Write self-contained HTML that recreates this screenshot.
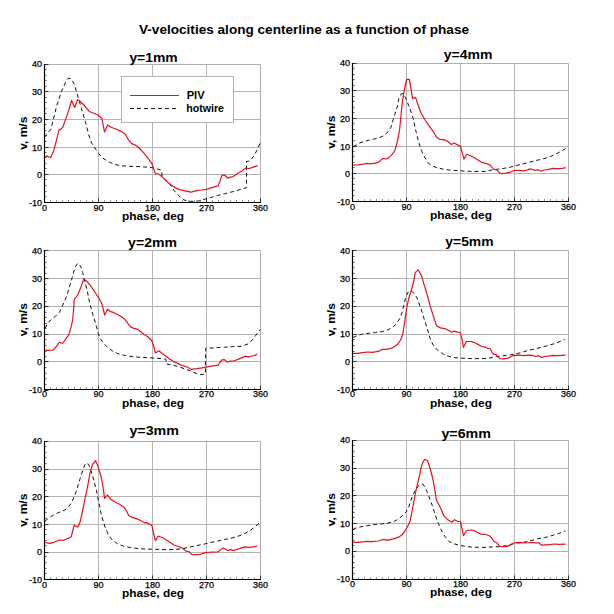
<!DOCTYPE html>
<html><head><meta charset="utf-8"><style>
html,body{margin:0;padding:0;background:#fff;}
svg{display:block;font-family:"Liberation Sans",sans-serif;}
</style></head><body>
<svg width="614" height="614" viewBox="0 0 614 614">
<rect width="614" height="614" fill="#fff"/>
<line x1="98.5" y1="64" x2="98.5" y2="202" stroke="#b4b4b4" stroke-width="1"/>
<line x1="152.5" y1="64" x2="152.5" y2="202" stroke="#b4b4b4" stroke-width="1"/>
<line x1="206.5" y1="64" x2="206.5" y2="202" stroke="#b4b4b4" stroke-width="1"/>
<line x1="44" y1="91.5" x2="260" y2="91.5" stroke="#b4b4b4" stroke-width="1"/>
<line x1="44" y1="119.5" x2="260" y2="119.5" stroke="#b4b4b4" stroke-width="1"/>
<line x1="44" y1="147.5" x2="260" y2="147.5" stroke="#b4b4b4" stroke-width="1"/>
<line x1="44" y1="174.5" x2="260" y2="174.5" stroke="#b4b4b4" stroke-width="1"/>
<path d="M44.5 64.5 H260.5 V202.5" fill="none" stroke="#b0b0b0" stroke-width="1"/>
<line x1="44" y1="202.5" x2="48.5" y2="202.5" stroke="#333" stroke-width="1"/>
<line x1="44" y1="196.5" x2="46.6" y2="196.5" stroke="#666" stroke-width="1"/>
<line x1="44" y1="191.5" x2="46.6" y2="191.5" stroke="#666" stroke-width="1"/>
<line x1="44" y1="185.5" x2="46.6" y2="185.5" stroke="#666" stroke-width="1"/>
<line x1="44" y1="179.5" x2="46.6" y2="179.5" stroke="#666" stroke-width="1"/>
<line x1="44" y1="174.5" x2="48.5" y2="174.5" stroke="#333" stroke-width="1"/>
<line x1="44" y1="168.5" x2="46.6" y2="168.5" stroke="#666" stroke-width="1"/>
<line x1="44" y1="163.5" x2="46.6" y2="163.5" stroke="#666" stroke-width="1"/>
<line x1="44" y1="157.5" x2="46.6" y2="157.5" stroke="#666" stroke-width="1"/>
<line x1="44" y1="152.5" x2="46.6" y2="152.5" stroke="#666" stroke-width="1"/>
<line x1="44" y1="147.5" x2="48.5" y2="147.5" stroke="#333" stroke-width="1"/>
<line x1="44" y1="141.5" x2="46.6" y2="141.5" stroke="#666" stroke-width="1"/>
<line x1="44" y1="135.5" x2="46.6" y2="135.5" stroke="#666" stroke-width="1"/>
<line x1="44" y1="130.5" x2="46.6" y2="130.5" stroke="#666" stroke-width="1"/>
<line x1="44" y1="124.5" x2="46.6" y2="124.5" stroke="#666" stroke-width="1"/>
<line x1="44" y1="119.5" x2="48.5" y2="119.5" stroke="#333" stroke-width="1"/>
<line x1="44" y1="113.5" x2="46.6" y2="113.5" stroke="#666" stroke-width="1"/>
<line x1="44" y1="108.5" x2="46.6" y2="108.5" stroke="#666" stroke-width="1"/>
<line x1="44" y1="102.5" x2="46.6" y2="102.5" stroke="#666" stroke-width="1"/>
<line x1="44" y1="97.5" x2="46.6" y2="97.5" stroke="#666" stroke-width="1"/>
<line x1="44" y1="91.5" x2="48.5" y2="91.5" stroke="#333" stroke-width="1"/>
<line x1="44" y1="86.5" x2="46.6" y2="86.5" stroke="#666" stroke-width="1"/>
<line x1="44" y1="80.5" x2="46.6" y2="80.5" stroke="#666" stroke-width="1"/>
<line x1="44" y1="75.5" x2="46.6" y2="75.5" stroke="#666" stroke-width="1"/>
<line x1="44" y1="69.5" x2="46.6" y2="69.5" stroke="#666" stroke-width="1"/>
<line x1="44" y1="64.5" x2="48.5" y2="64.5" stroke="#333" stroke-width="1"/>
<line x1="44.5" y1="203" x2="44.5" y2="198.5" stroke="#333" stroke-width="1"/>
<line x1="50.5" y1="203" x2="50.5" y2="200" stroke="#999" stroke-width="1"/>
<line x1="56.5" y1="203" x2="56.5" y2="200" stroke="#999" stroke-width="1"/>
<line x1="62.5" y1="203" x2="62.5" y2="200" stroke="#999" stroke-width="1"/>
<line x1="68.5" y1="203" x2="68.5" y2="200" stroke="#999" stroke-width="1"/>
<line x1="74.5" y1="203" x2="74.5" y2="200" stroke="#999" stroke-width="1"/>
<line x1="80.5" y1="203" x2="80.5" y2="200" stroke="#999" stroke-width="1"/>
<line x1="86.5" y1="203" x2="86.5" y2="200" stroke="#999" stroke-width="1"/>
<line x1="92.5" y1="203" x2="92.5" y2="200" stroke="#999" stroke-width="1"/>
<line x1="98.5" y1="203" x2="98.5" y2="198.5" stroke="#333" stroke-width="1"/>
<line x1="104.5" y1="203" x2="104.5" y2="200" stroke="#999" stroke-width="1"/>
<line x1="110.5" y1="203" x2="110.5" y2="200" stroke="#999" stroke-width="1"/>
<line x1="116.5" y1="203" x2="116.5" y2="200" stroke="#999" stroke-width="1"/>
<line x1="122.5" y1="203" x2="122.5" y2="200" stroke="#999" stroke-width="1"/>
<line x1="128.5" y1="203" x2="128.5" y2="200" stroke="#999" stroke-width="1"/>
<line x1="134.5" y1="203" x2="134.5" y2="200" stroke="#999" stroke-width="1"/>
<line x1="140.5" y1="203" x2="140.5" y2="200" stroke="#999" stroke-width="1"/>
<line x1="146.5" y1="203" x2="146.5" y2="200" stroke="#999" stroke-width="1"/>
<line x1="152.5" y1="203" x2="152.5" y2="198.5" stroke="#333" stroke-width="1"/>
<line x1="158.5" y1="203" x2="158.5" y2="200" stroke="#999" stroke-width="1"/>
<line x1="164.5" y1="203" x2="164.5" y2="200" stroke="#999" stroke-width="1"/>
<line x1="170.5" y1="203" x2="170.5" y2="200" stroke="#999" stroke-width="1"/>
<line x1="176.5" y1="203" x2="176.5" y2="200" stroke="#999" stroke-width="1"/>
<line x1="182.5" y1="203" x2="182.5" y2="200" stroke="#999" stroke-width="1"/>
<line x1="188.5" y1="203" x2="188.5" y2="200" stroke="#999" stroke-width="1"/>
<line x1="194.5" y1="203" x2="194.5" y2="200" stroke="#999" stroke-width="1"/>
<line x1="200.5" y1="203" x2="200.5" y2="200" stroke="#999" stroke-width="1"/>
<line x1="206.5" y1="203" x2="206.5" y2="198.5" stroke="#333" stroke-width="1"/>
<line x1="212.5" y1="203" x2="212.5" y2="200" stroke="#999" stroke-width="1"/>
<line x1="218.5" y1="203" x2="218.5" y2="200" stroke="#999" stroke-width="1"/>
<line x1="224.5" y1="203" x2="224.5" y2="200" stroke="#999" stroke-width="1"/>
<line x1="230.5" y1="203" x2="230.5" y2="200" stroke="#999" stroke-width="1"/>
<line x1="236.5" y1="203" x2="236.5" y2="200" stroke="#999" stroke-width="1"/>
<line x1="242.5" y1="203" x2="242.5" y2="200" stroke="#999" stroke-width="1"/>
<line x1="248.5" y1="203" x2="248.5" y2="200" stroke="#999" stroke-width="1"/>
<line x1="254.5" y1="203" x2="254.5" y2="200" stroke="#999" stroke-width="1"/>
<line x1="260.5" y1="203" x2="260.5" y2="198.5" stroke="#333" stroke-width="1"/>
<path d="M44.5 64 V202.5 H261" fill="none" stroke="#000" stroke-width="1.2"/>
<text x="42" y="66.8" text-anchor="end" font-size="9" stroke="#000" stroke-width="0.25">40</text>
<text x="42" y="95.3" text-anchor="end" font-size="9" stroke="#000" stroke-width="0.25">30</text>
<text x="42" y="122.9" text-anchor="end" font-size="9" stroke="#000" stroke-width="0.25">20</text>
<text x="42" y="150.5" text-anchor="end" font-size="9" stroke="#000" stroke-width="0.25">10</text>
<text x="42" y="178.1" text-anchor="end" font-size="9" stroke="#000" stroke-width="0.25">0</text>
<text x="42" y="205.7" text-anchor="end" font-size="9" stroke="#000" stroke-width="0.25">-10</text>
<text x="44.5" y="211" text-anchor="middle" font-size="9" stroke="#000" stroke-width="0.25">0</text>
<text x="98.5" y="211" text-anchor="middle" font-size="9" stroke="#000" stroke-width="0.25">90</text>
<text x="152.5" y="211" text-anchor="middle" font-size="9" stroke="#000" stroke-width="0.25">180</text>
<text x="206.5" y="211" text-anchor="middle" font-size="9" stroke="#000" stroke-width="0.25">270</text>
<text x="260.5" y="211" text-anchor="middle" font-size="9" stroke="#000" stroke-width="0.25">360</text>
<text x="122.00" y="219.60" font-size="11.5" font-weight="bold" textLength="62.0" lengthAdjust="spacingAndGlyphs">phase, deg</text>
<text x="0.00" y="0.00" font-size="11.5" font-weight="bold" textLength="33.0" lengthAdjust="spacingAndGlyphs" transform="translate(27.3,149.7) rotate(-90)">v, m/s</text>
<text x="129.40" y="62.10" font-size="12" font-weight="bold" textLength="48.3" lengthAdjust="spacingAndGlyphs">y=1mm</text>
<path d="M44.5 137.5 L48.2 132.5 L50.8 129.4 L53.4 119.5 L56.5 106.4 L61.6 91.0 L65.7 82.2 L68.6 78.1 L71.0 78.7 L73.9 83.3 L76.8 92.7 L81.5 108.6 L85.6 122.6 L89.1 136.0 L91.6 142.9 L95.7 149.3 L98.6 153.5 L102.1 157.6 L106.8 160.7 L110.4 162.6 L115.2 164.5 L121.1 165.7 L129.3 166.3 L138.7 166.6 L146.9 167.1 L152.8 167.8 L157.8 169.1 L160.5 169.8 L161.6 170.6 L162.2 177.0 L163.2 178.6 L165.5 180.2 L168.0 182.0 L170.0 184.4 L172.0 187.3 L174.0 190.3 L176.3 193.2 L178.8 195.6 L181.4 198.1 L183.9 199.8 L186.5 200.8 L190.0 201.3 L194.9 201.3 L199.8 200.8 L204.9 199.1 L211.8 197.2 L218.6 195.2 L225.5 193.6 L232.3 191.8 L239.1 189.8 L246.5 187.7 L246.5 161.5 L249.9 161.0 L253.8 156.1 L257.7 148.8 L260.4 142.0" fill="none" stroke="#111" stroke-width="1.0" stroke-dasharray="4 3" stroke-linejoin="round"/>
<path d="M45.0 156.5 L47.6 156.2 L50.5 157.7 L53.9 150.2 L59.1 129.9 L60.7 129.1 L62.8 127.3 L65.9 118.4 L69.0 109.5 L71.6 100.4 L74.7 107.5 L77.6 99.6 L80.0 101.2 L83.9 105.0 L89.7 111.8 L93.8 113.2 L97.9 115.0 L101.8 118.2 L104.5 131.9 L107.6 124.9 L111.1 127.2 L115.2 128.7 L120.5 131.1 L125.2 134.0 L128.1 139.3 L131.7 143.6 L135.2 145.1 L138.7 147.5 L144.6 153.9 L149.2 159.8 L151.9 163.7 L153.9 169.5 L155.3 173.7 L158.3 173.9 L162.7 177.4 L168.5 182.7 L173.4 186.6 L179.3 189.6 L185.1 190.8 L191.0 192.2 L196.9 190.6 L202.0 190.0 L206.4 189.3 L211.8 187.7 L218.1 185.9 L220.1 181.0 L222.0 175.2 L224.5 175.0 L227.9 178.3 L230.3 177.1 L233.3 176.6 L237.2 173.7 L242.1 170.8 L246.0 168.1 L249.4 168.5 L253.8 166.9 L257.7 165.6" fill="none" stroke="#e4121e" stroke-width="1.2" stroke-linejoin="round"/>
<line x1="98.5" y1="250" x2="98.5" y2="389" stroke="#b4b4b4" stroke-width="1"/>
<line x1="152.5" y1="250" x2="152.5" y2="389" stroke="#b4b4b4" stroke-width="1"/>
<line x1="206.5" y1="250" x2="206.5" y2="389" stroke="#b4b4b4" stroke-width="1"/>
<line x1="44" y1="278.5" x2="260" y2="278.5" stroke="#b4b4b4" stroke-width="1"/>
<line x1="44" y1="306.5" x2="260" y2="306.5" stroke="#b4b4b4" stroke-width="1"/>
<line x1="44" y1="334.5" x2="260" y2="334.5" stroke="#b4b4b4" stroke-width="1"/>
<line x1="44" y1="361.5" x2="260" y2="361.5" stroke="#b4b4b4" stroke-width="1"/>
<path d="M44.5 250.5 H260.5 V389.5" fill="none" stroke="#b0b0b0" stroke-width="1"/>
<line x1="44" y1="390.5" x2="48.5" y2="390.5" stroke="#333" stroke-width="1"/>
<line x1="44" y1="384.5" x2="46.6" y2="384.5" stroke="#666" stroke-width="1"/>
<line x1="44" y1="378.5" x2="46.6" y2="378.5" stroke="#666" stroke-width="1"/>
<line x1="44" y1="373.5" x2="46.6" y2="373.5" stroke="#666" stroke-width="1"/>
<line x1="44" y1="367.5" x2="46.6" y2="367.5" stroke="#666" stroke-width="1"/>
<line x1="44" y1="361.5" x2="48.5" y2="361.5" stroke="#333" stroke-width="1"/>
<line x1="44" y1="356.5" x2="46.6" y2="356.5" stroke="#666" stroke-width="1"/>
<line x1="44" y1="351.5" x2="46.6" y2="351.5" stroke="#666" stroke-width="1"/>
<line x1="44" y1="345.5" x2="46.6" y2="345.5" stroke="#666" stroke-width="1"/>
<line x1="44" y1="339.5" x2="46.6" y2="339.5" stroke="#666" stroke-width="1"/>
<line x1="44" y1="334.5" x2="48.5" y2="334.5" stroke="#333" stroke-width="1"/>
<line x1="44" y1="328.5" x2="46.6" y2="328.5" stroke="#666" stroke-width="1"/>
<line x1="44" y1="323.5" x2="46.6" y2="323.5" stroke="#666" stroke-width="1"/>
<line x1="44" y1="317.5" x2="46.6" y2="317.5" stroke="#666" stroke-width="1"/>
<line x1="44" y1="312.5" x2="46.6" y2="312.5" stroke="#666" stroke-width="1"/>
<line x1="44" y1="306.5" x2="48.5" y2="306.5" stroke="#333" stroke-width="1"/>
<line x1="44" y1="301.5" x2="46.6" y2="301.5" stroke="#666" stroke-width="1"/>
<line x1="44" y1="295.5" x2="46.6" y2="295.5" stroke="#666" stroke-width="1"/>
<line x1="44" y1="289.5" x2="46.6" y2="289.5" stroke="#666" stroke-width="1"/>
<line x1="44" y1="284.5" x2="46.6" y2="284.5" stroke="#666" stroke-width="1"/>
<line x1="44" y1="278.5" x2="48.5" y2="278.5" stroke="#333" stroke-width="1"/>
<line x1="44" y1="273.5" x2="46.6" y2="273.5" stroke="#666" stroke-width="1"/>
<line x1="44" y1="267.5" x2="46.6" y2="267.5" stroke="#666" stroke-width="1"/>
<line x1="44" y1="262.5" x2="46.6" y2="262.5" stroke="#666" stroke-width="1"/>
<line x1="44" y1="256.5" x2="46.6" y2="256.5" stroke="#666" stroke-width="1"/>
<line x1="44" y1="250.5" x2="48.5" y2="250.5" stroke="#333" stroke-width="1"/>
<line x1="44.5" y1="390" x2="44.5" y2="385.5" stroke="#333" stroke-width="1"/>
<line x1="50.5" y1="390" x2="50.5" y2="387" stroke="#999" stroke-width="1"/>
<line x1="56.5" y1="390" x2="56.5" y2="387" stroke="#999" stroke-width="1"/>
<line x1="62.5" y1="390" x2="62.5" y2="387" stroke="#999" stroke-width="1"/>
<line x1="68.5" y1="390" x2="68.5" y2="387" stroke="#999" stroke-width="1"/>
<line x1="74.5" y1="390" x2="74.5" y2="387" stroke="#999" stroke-width="1"/>
<line x1="80.5" y1="390" x2="80.5" y2="387" stroke="#999" stroke-width="1"/>
<line x1="86.5" y1="390" x2="86.5" y2="387" stroke="#999" stroke-width="1"/>
<line x1="92.5" y1="390" x2="92.5" y2="387" stroke="#999" stroke-width="1"/>
<line x1="98.5" y1="390" x2="98.5" y2="385.5" stroke="#333" stroke-width="1"/>
<line x1="104.5" y1="390" x2="104.5" y2="387" stroke="#999" stroke-width="1"/>
<line x1="110.5" y1="390" x2="110.5" y2="387" stroke="#999" stroke-width="1"/>
<line x1="116.5" y1="390" x2="116.5" y2="387" stroke="#999" stroke-width="1"/>
<line x1="122.5" y1="390" x2="122.5" y2="387" stroke="#999" stroke-width="1"/>
<line x1="128.5" y1="390" x2="128.5" y2="387" stroke="#999" stroke-width="1"/>
<line x1="134.5" y1="390" x2="134.5" y2="387" stroke="#999" stroke-width="1"/>
<line x1="140.5" y1="390" x2="140.5" y2="387" stroke="#999" stroke-width="1"/>
<line x1="146.5" y1="390" x2="146.5" y2="387" stroke="#999" stroke-width="1"/>
<line x1="152.5" y1="390" x2="152.5" y2="385.5" stroke="#333" stroke-width="1"/>
<line x1="158.5" y1="390" x2="158.5" y2="387" stroke="#999" stroke-width="1"/>
<line x1="164.5" y1="390" x2="164.5" y2="387" stroke="#999" stroke-width="1"/>
<line x1="170.5" y1="390" x2="170.5" y2="387" stroke="#999" stroke-width="1"/>
<line x1="176.5" y1="390" x2="176.5" y2="387" stroke="#999" stroke-width="1"/>
<line x1="182.5" y1="390" x2="182.5" y2="387" stroke="#999" stroke-width="1"/>
<line x1="188.5" y1="390" x2="188.5" y2="387" stroke="#999" stroke-width="1"/>
<line x1="194.5" y1="390" x2="194.5" y2="387" stroke="#999" stroke-width="1"/>
<line x1="200.5" y1="390" x2="200.5" y2="387" stroke="#999" stroke-width="1"/>
<line x1="206.5" y1="390" x2="206.5" y2="385.5" stroke="#333" stroke-width="1"/>
<line x1="212.5" y1="390" x2="212.5" y2="387" stroke="#999" stroke-width="1"/>
<line x1="218.5" y1="390" x2="218.5" y2="387" stroke="#999" stroke-width="1"/>
<line x1="224.5" y1="390" x2="224.5" y2="387" stroke="#999" stroke-width="1"/>
<line x1="230.5" y1="390" x2="230.5" y2="387" stroke="#999" stroke-width="1"/>
<line x1="236.5" y1="390" x2="236.5" y2="387" stroke="#999" stroke-width="1"/>
<line x1="242.5" y1="390" x2="242.5" y2="387" stroke="#999" stroke-width="1"/>
<line x1="248.5" y1="390" x2="248.5" y2="387" stroke="#999" stroke-width="1"/>
<line x1="254.5" y1="390" x2="254.5" y2="387" stroke="#999" stroke-width="1"/>
<line x1="260.5" y1="390" x2="260.5" y2="385.5" stroke="#333" stroke-width="1"/>
<path d="M44.5 250 V389.5 H261" fill="none" stroke="#000" stroke-width="1.2"/>
<text x="42" y="253.7" text-anchor="end" font-size="9" stroke="#000" stroke-width="0.25">40</text>
<text x="42" y="281.5" text-anchor="end" font-size="9" stroke="#000" stroke-width="0.25">30</text>
<text x="42" y="309.3" text-anchor="end" font-size="9" stroke="#000" stroke-width="0.25">20</text>
<text x="42" y="337.1" text-anchor="end" font-size="9" stroke="#000" stroke-width="0.25">10</text>
<text x="42" y="364.9" text-anchor="end" font-size="9" stroke="#000" stroke-width="0.25">0</text>
<text x="42" y="392.7" text-anchor="end" font-size="9" stroke="#000" stroke-width="0.25">-10</text>
<text x="44.5" y="397.2" text-anchor="middle" font-size="9" stroke="#000" stroke-width="0.25">0</text>
<text x="98.5" y="397.2" text-anchor="middle" font-size="9" stroke="#000" stroke-width="0.25">90</text>
<text x="152.5" y="397.2" text-anchor="middle" font-size="9" stroke="#000" stroke-width="0.25">180</text>
<text x="206.5" y="397.2" text-anchor="middle" font-size="9" stroke="#000" stroke-width="0.25">270</text>
<text x="260.5" y="397.2" text-anchor="middle" font-size="9" stroke="#000" stroke-width="0.25">360</text>
<text x="122.00" y="406.60" font-size="11.5" font-weight="bold" textLength="62.0" lengthAdjust="spacingAndGlyphs">phase, deg</text>
<text x="0.00" y="0.00" font-size="11.5" font-weight="bold" textLength="33.0" lengthAdjust="spacingAndGlyphs" transform="translate(27.3,336.2) rotate(-90)">v, m/s</text>
<text x="128.10" y="246.80" font-size="12" font-weight="bold" textLength="48.9" lengthAdjust="spacingAndGlyphs">y=2mm</text>
<path d="M44.9 328.3 L47.8 323.5 L50.7 320.0 L55.1 316.6 L59.5 312.2 L62.1 306.7 L66.0 297.9 L69.4 287.1 L72.3 277.4 L74.8 267.6 L77.7 263.2 L80.6 266.1 L82.6 272.5 L85.0 282.2 L87.5 292.0 L89.4 301.8 L91.4 309.1 L93.3 316.1 L95.7 323.5 L98.2 333.5 L100.4 338.8 L103.8 343.7 L107.7 347.6 L112.6 351.0 L117.5 353.5 L123.4 355.2 L129.2 356.2 L135.1 356.9 L141.9 357.4 L148.8 357.7 L156.8 358.3 L164.7 359.0 L166.0 359.4 L166.2 363.9 L172.5 365.2 L178.3 366.5 L184.2 368.7 L190.1 370.7 L195.9 373.3 L200.8 374.6 L205.4 373.9 L205.7 348.3 L209.8 348.1 L216.7 347.6 L224.5 347.2 L233.3 346.6 L242.1 346.2 L247.9 343.9 L252.8 339.5 L258.2 332.2 L260.2 329.5" fill="none" stroke="#111" stroke-width="1.0" stroke-dasharray="4 3" stroke-linejoin="round"/>
<path d="M44.9 350.3 L48.8 350.3 L53.2 350.0 L56.1 346.9 L59.5 342.2 L62.5 343.5 L65.4 339.6 L68.8 334.7 L71.3 326.4 L72.7 319.5 L73.4 311.7 L74.3 299.4 L77.7 295.0 L80.6 288.1 L83.6 279.3 L87.0 281.3 L90.9 286.2 L94.8 292.0 L98.7 297.9 L101.9 303.7 L103.3 309.5 L104.6 315.2 L107.5 309.3 L110.7 311.7 L114.1 312.7 L119.0 315.2 L124.3 318.8 L127.3 322.7 L130.2 326.6 L133.1 328.1 L137.0 329.1 L140.5 331.5 L143.9 334.5 L147.8 336.8 L151.7 340.5 L153.9 346.7 L155.4 353.1 L158.8 350.8 L163.7 354.5 L169.5 358.9 L175.4 362.4 L181.3 365.1 L187.6 367.2 L191.5 369.4 L196.9 368.7 L202.0 367.9 L205.9 367.1 L211.8 366.1 L218.1 365.1 L220.1 362.0 L222.0 359.9 L224.5 359.6 L227.4 362.2 L230.3 361.0 L233.3 361.2 L237.2 359.6 L242.1 357.6 L245.5 356.2 L248.4 356.9 L252.8 356.0 L257.2 354.4" fill="none" stroke="#e4121e" stroke-width="1.2" stroke-linejoin="round"/>
<line x1="98.5" y1="441" x2="98.5" y2="579" stroke="#b4b4b4" stroke-width="1"/>
<line x1="152.5" y1="441" x2="152.5" y2="579" stroke="#b4b4b4" stroke-width="1"/>
<line x1="206.5" y1="441" x2="206.5" y2="579" stroke="#b4b4b4" stroke-width="1"/>
<line x1="44" y1="469.5" x2="260" y2="469.5" stroke="#b4b4b4" stroke-width="1"/>
<line x1="44" y1="496.5" x2="260" y2="496.5" stroke="#b4b4b4" stroke-width="1"/>
<line x1="44" y1="524.5" x2="260" y2="524.5" stroke="#b4b4b4" stroke-width="1"/>
<line x1="44" y1="552.5" x2="260" y2="552.5" stroke="#b4b4b4" stroke-width="1"/>
<path d="M44.5 441.5 H260.5 V579.5" fill="none" stroke="#b0b0b0" stroke-width="1"/>
<line x1="44" y1="579.5" x2="48.5" y2="579.5" stroke="#333" stroke-width="1"/>
<line x1="44" y1="573.5" x2="46.6" y2="573.5" stroke="#666" stroke-width="1"/>
<line x1="44" y1="568.5" x2="46.6" y2="568.5" stroke="#666" stroke-width="1"/>
<line x1="44" y1="562.5" x2="46.6" y2="562.5" stroke="#666" stroke-width="1"/>
<line x1="44" y1="556.5" x2="46.6" y2="556.5" stroke="#666" stroke-width="1"/>
<line x1="44" y1="552.5" x2="48.5" y2="552.5" stroke="#333" stroke-width="1"/>
<line x1="44" y1="545.5" x2="46.6" y2="545.5" stroke="#666" stroke-width="1"/>
<line x1="44" y1="540.5" x2="46.6" y2="540.5" stroke="#666" stroke-width="1"/>
<line x1="44" y1="534.5" x2="46.6" y2="534.5" stroke="#666" stroke-width="1"/>
<line x1="44" y1="529.5" x2="46.6" y2="529.5" stroke="#666" stroke-width="1"/>
<line x1="44" y1="524.5" x2="48.5" y2="524.5" stroke="#333" stroke-width="1"/>
<line x1="44" y1="518.5" x2="46.6" y2="518.5" stroke="#666" stroke-width="1"/>
<line x1="44" y1="512.5" x2="46.6" y2="512.5" stroke="#666" stroke-width="1"/>
<line x1="44" y1="507.5" x2="46.6" y2="507.5" stroke="#666" stroke-width="1"/>
<line x1="44" y1="501.5" x2="46.6" y2="501.5" stroke="#666" stroke-width="1"/>
<line x1="44" y1="496.5" x2="48.5" y2="496.5" stroke="#333" stroke-width="1"/>
<line x1="44" y1="490.5" x2="46.6" y2="490.5" stroke="#666" stroke-width="1"/>
<line x1="44" y1="485.5" x2="46.6" y2="485.5" stroke="#666" stroke-width="1"/>
<line x1="44" y1="479.5" x2="46.6" y2="479.5" stroke="#666" stroke-width="1"/>
<line x1="44" y1="474.5" x2="46.6" y2="474.5" stroke="#666" stroke-width="1"/>
<line x1="44" y1="469.5" x2="48.5" y2="469.5" stroke="#333" stroke-width="1"/>
<line x1="44" y1="463.5" x2="46.6" y2="463.5" stroke="#666" stroke-width="1"/>
<line x1="44" y1="457.5" x2="46.6" y2="457.5" stroke="#666" stroke-width="1"/>
<line x1="44" y1="452.5" x2="46.6" y2="452.5" stroke="#666" stroke-width="1"/>
<line x1="44" y1="446.5" x2="46.6" y2="446.5" stroke="#666" stroke-width="1"/>
<line x1="44" y1="441.5" x2="48.5" y2="441.5" stroke="#333" stroke-width="1"/>
<line x1="44.5" y1="580" x2="44.5" y2="575.5" stroke="#333" stroke-width="1"/>
<line x1="50.5" y1="580" x2="50.5" y2="577" stroke="#999" stroke-width="1"/>
<line x1="56.5" y1="580" x2="56.5" y2="577" stroke="#999" stroke-width="1"/>
<line x1="62.5" y1="580" x2="62.5" y2="577" stroke="#999" stroke-width="1"/>
<line x1="68.5" y1="580" x2="68.5" y2="577" stroke="#999" stroke-width="1"/>
<line x1="74.5" y1="580" x2="74.5" y2="577" stroke="#999" stroke-width="1"/>
<line x1="80.5" y1="580" x2="80.5" y2="577" stroke="#999" stroke-width="1"/>
<line x1="86.5" y1="580" x2="86.5" y2="577" stroke="#999" stroke-width="1"/>
<line x1="92.5" y1="580" x2="92.5" y2="577" stroke="#999" stroke-width="1"/>
<line x1="98.5" y1="580" x2="98.5" y2="575.5" stroke="#333" stroke-width="1"/>
<line x1="104.5" y1="580" x2="104.5" y2="577" stroke="#999" stroke-width="1"/>
<line x1="110.5" y1="580" x2="110.5" y2="577" stroke="#999" stroke-width="1"/>
<line x1="116.5" y1="580" x2="116.5" y2="577" stroke="#999" stroke-width="1"/>
<line x1="122.5" y1="580" x2="122.5" y2="577" stroke="#999" stroke-width="1"/>
<line x1="128.5" y1="580" x2="128.5" y2="577" stroke="#999" stroke-width="1"/>
<line x1="134.5" y1="580" x2="134.5" y2="577" stroke="#999" stroke-width="1"/>
<line x1="140.5" y1="580" x2="140.5" y2="577" stroke="#999" stroke-width="1"/>
<line x1="146.5" y1="580" x2="146.5" y2="577" stroke="#999" stroke-width="1"/>
<line x1="152.5" y1="580" x2="152.5" y2="575.5" stroke="#333" stroke-width="1"/>
<line x1="158.5" y1="580" x2="158.5" y2="577" stroke="#999" stroke-width="1"/>
<line x1="164.5" y1="580" x2="164.5" y2="577" stroke="#999" stroke-width="1"/>
<line x1="170.5" y1="580" x2="170.5" y2="577" stroke="#999" stroke-width="1"/>
<line x1="176.5" y1="580" x2="176.5" y2="577" stroke="#999" stroke-width="1"/>
<line x1="182.5" y1="580" x2="182.5" y2="577" stroke="#999" stroke-width="1"/>
<line x1="188.5" y1="580" x2="188.5" y2="577" stroke="#999" stroke-width="1"/>
<line x1="194.5" y1="580" x2="194.5" y2="577" stroke="#999" stroke-width="1"/>
<line x1="200.5" y1="580" x2="200.5" y2="577" stroke="#999" stroke-width="1"/>
<line x1="206.5" y1="580" x2="206.5" y2="575.5" stroke="#333" stroke-width="1"/>
<line x1="212.5" y1="580" x2="212.5" y2="577" stroke="#999" stroke-width="1"/>
<line x1="218.5" y1="580" x2="218.5" y2="577" stroke="#999" stroke-width="1"/>
<line x1="224.5" y1="580" x2="224.5" y2="577" stroke="#999" stroke-width="1"/>
<line x1="230.5" y1="580" x2="230.5" y2="577" stroke="#999" stroke-width="1"/>
<line x1="236.5" y1="580" x2="236.5" y2="577" stroke="#999" stroke-width="1"/>
<line x1="242.5" y1="580" x2="242.5" y2="577" stroke="#999" stroke-width="1"/>
<line x1="248.5" y1="580" x2="248.5" y2="577" stroke="#999" stroke-width="1"/>
<line x1="254.5" y1="580" x2="254.5" y2="577" stroke="#999" stroke-width="1"/>
<line x1="260.5" y1="580" x2="260.5" y2="575.5" stroke="#333" stroke-width="1"/>
<path d="M44.5 441 V579.5 H261" fill="none" stroke="#000" stroke-width="1.2"/>
<text x="42" y="443.8" text-anchor="end" font-size="9" stroke="#000" stroke-width="0.25">40</text>
<text x="42" y="472.3" text-anchor="end" font-size="9" stroke="#000" stroke-width="0.25">30</text>
<text x="42" y="499.9" text-anchor="end" font-size="9" stroke="#000" stroke-width="0.25">20</text>
<text x="42" y="527.5" text-anchor="end" font-size="9" stroke="#000" stroke-width="0.25">10</text>
<text x="42" y="555.1" text-anchor="end" font-size="9" stroke="#000" stroke-width="0.25">0</text>
<text x="42" y="582.7" text-anchor="end" font-size="9" stroke="#000" stroke-width="0.25">-10</text>
<text x="44.5" y="588" text-anchor="middle" font-size="9" stroke="#000" stroke-width="0.25">0</text>
<text x="98.5" y="588" text-anchor="middle" font-size="9" stroke="#000" stroke-width="0.25">90</text>
<text x="152.5" y="588" text-anchor="middle" font-size="9" stroke="#000" stroke-width="0.25">180</text>
<text x="206.5" y="588" text-anchor="middle" font-size="9" stroke="#000" stroke-width="0.25">270</text>
<text x="260.5" y="588" text-anchor="middle" font-size="9" stroke="#000" stroke-width="0.25">360</text>
<text x="122.00" y="596.60" font-size="11.5" font-weight="bold" textLength="62.0" lengthAdjust="spacingAndGlyphs">phase, deg</text>
<text x="0.00" y="0.00" font-size="11.5" font-weight="bold" textLength="33.0" lengthAdjust="spacingAndGlyphs" transform="translate(27.3,526.7) rotate(-90)">v, m/s</text>
<text x="129.40" y="434.70" font-size="12" font-weight="bold" textLength="49.6" lengthAdjust="spacingAndGlyphs">y=3mm</text>
<path d="M44.9 521.3 L48.3 518.3 L52.7 515.4 L57.6 513.0 L62.5 511.0 L66.4 509.1 L69.3 506.1 L73.3 498.9 L76.7 490.1 L80.2 478.3 L83.1 469.5 L85.5 463.2 L88.5 464.2 L90.9 470.5 L93.8 480.3 L96.8 492.0 L99.0 503.5 L101.4 515.0 L103.3 521.5 L105.3 527.7 L108.2 534.5 L112.1 539.9 L117.5 543.8 L123.4 546.1 L130.2 547.5 L137.0 548.4 L143.9 549.0 L150.7 549.2 L159.8 549.4 L167.6 549.7 L175.4 549.4 L182.2 548.7 L189.1 547.2 L196.9 545.5 L203.0 544.4 L209.8 542.7 L217.6 541.1 L225.5 539.3 L232.3 537.9 L239.1 535.9 L245.0 533.5 L250.9 530.0 L255.7 526.1 L259.2 523.2" fill="none" stroke="#111" stroke-width="1.0" stroke-dasharray="4 3" stroke-linejoin="round"/>
<path d="M44.9 542.5 L49.8 543.3 L53.7 542.3 L59.5 540.0 L63.5 540.3 L68.3 538.4 L71.3 536.4 L72.7 531.0 L74.2 525.2 L77.6 527.1 L80.1 522.2 L82.0 513.5 L84.7 500.5 L87.5 487.1 L89.9 473.5 L92.4 464.7 L95.6 460.7 L97.7 465.6 L100.2 473.5 L101.4 478.0 L102.8 485.6 L104.6 498.3 L107.5 494.9 L110.7 499.3 L114.6 501.8 L119.5 504.2 L124.3 507.6 L126.3 510.6 L128.7 515.4 L132.2 517.4 L137.0 518.9 L141.0 520.8 L144.4 522.8 L146.5 522.6 L149.7 524.2 L152.0 525.7 L153.4 532.6 L155.4 540.6 L158.3 536.0 L162.7 537.7 L168.6 541.4 L174.4 545.3 L179.3 546.8 L183.2 548.7 L186.2 551.2 L189.1 551.6 L191.5 554.3 L195.9 554.6 L200.8 554.3 L204.7 552.6 L206.4 552.5 L211.8 552.2 L218.1 551.8 L220.1 550.1 L222.5 548.1 L225.0 548.9 L227.9 550.6 L230.8 549.6 L233.8 550.6 L237.2 549.3 L241.1 548.1 L245.0 546.9 L248.9 547.3 L252.8 546.9 L257.2 546.2" fill="none" stroke="#e4121e" stroke-width="1.2" stroke-linejoin="round"/>
<line x1="406.5" y1="63" x2="406.5" y2="201" stroke="#b4b4b4" stroke-width="1"/>
<line x1="460.5" y1="63" x2="460.5" y2="201" stroke="#b4b4b4" stroke-width="1"/>
<line x1="514.5" y1="63" x2="514.5" y2="201" stroke="#b4b4b4" stroke-width="1"/>
<line x1="352" y1="90.5" x2="568" y2="90.5" stroke="#b4b4b4" stroke-width="1"/>
<line x1="352" y1="118.5" x2="568" y2="118.5" stroke="#b4b4b4" stroke-width="1"/>
<line x1="352" y1="146.5" x2="568" y2="146.5" stroke="#b4b4b4" stroke-width="1"/>
<line x1="352" y1="173.5" x2="568" y2="173.5" stroke="#b4b4b4" stroke-width="1"/>
<path d="M352.5 63.5 H568.5 V201.5" fill="none" stroke="#b0b0b0" stroke-width="1"/>
<line x1="352" y1="201.5" x2="356.5" y2="201.5" stroke="#333" stroke-width="1"/>
<line x1="352" y1="195.5" x2="354.6" y2="195.5" stroke="#666" stroke-width="1"/>
<line x1="352" y1="190.5" x2="354.6" y2="190.5" stroke="#666" stroke-width="1"/>
<line x1="352" y1="184.5" x2="354.6" y2="184.5" stroke="#666" stroke-width="1"/>
<line x1="352" y1="178.5" x2="354.6" y2="178.5" stroke="#666" stroke-width="1"/>
<line x1="352" y1="173.5" x2="356.5" y2="173.5" stroke="#333" stroke-width="1"/>
<line x1="352" y1="167.5" x2="354.6" y2="167.5" stroke="#666" stroke-width="1"/>
<line x1="352" y1="162.5" x2="354.6" y2="162.5" stroke="#666" stroke-width="1"/>
<line x1="352" y1="156.5" x2="354.6" y2="156.5" stroke="#666" stroke-width="1"/>
<line x1="352" y1="151.5" x2="354.6" y2="151.5" stroke="#666" stroke-width="1"/>
<line x1="352" y1="146.5" x2="356.5" y2="146.5" stroke="#333" stroke-width="1"/>
<line x1="352" y1="140.5" x2="354.6" y2="140.5" stroke="#666" stroke-width="1"/>
<line x1="352" y1="134.5" x2="354.6" y2="134.5" stroke="#666" stroke-width="1"/>
<line x1="352" y1="129.5" x2="354.6" y2="129.5" stroke="#666" stroke-width="1"/>
<line x1="352" y1="123.5" x2="354.6" y2="123.5" stroke="#666" stroke-width="1"/>
<line x1="352" y1="118.5" x2="356.5" y2="118.5" stroke="#333" stroke-width="1"/>
<line x1="352" y1="112.5" x2="354.6" y2="112.5" stroke="#666" stroke-width="1"/>
<line x1="352" y1="107.5" x2="354.6" y2="107.5" stroke="#666" stroke-width="1"/>
<line x1="352" y1="101.5" x2="354.6" y2="101.5" stroke="#666" stroke-width="1"/>
<line x1="352" y1="96.5" x2="354.6" y2="96.5" stroke="#666" stroke-width="1"/>
<line x1="352" y1="90.5" x2="356.5" y2="90.5" stroke="#333" stroke-width="1"/>
<line x1="352" y1="85.5" x2="354.6" y2="85.5" stroke="#666" stroke-width="1"/>
<line x1="352" y1="79.5" x2="354.6" y2="79.5" stroke="#666" stroke-width="1"/>
<line x1="352" y1="74.5" x2="354.6" y2="74.5" stroke="#666" stroke-width="1"/>
<line x1="352" y1="68.5" x2="354.6" y2="68.5" stroke="#666" stroke-width="1"/>
<line x1="352" y1="63.5" x2="356.5" y2="63.5" stroke="#333" stroke-width="1"/>
<line x1="352.5" y1="202" x2="352.5" y2="197.5" stroke="#333" stroke-width="1"/>
<line x1="358.5" y1="202" x2="358.5" y2="199" stroke="#999" stroke-width="1"/>
<line x1="364.5" y1="202" x2="364.5" y2="199" stroke="#999" stroke-width="1"/>
<line x1="370.5" y1="202" x2="370.5" y2="199" stroke="#999" stroke-width="1"/>
<line x1="376.5" y1="202" x2="376.5" y2="199" stroke="#999" stroke-width="1"/>
<line x1="382.5" y1="202" x2="382.5" y2="199" stroke="#999" stroke-width="1"/>
<line x1="388.5" y1="202" x2="388.5" y2="199" stroke="#999" stroke-width="1"/>
<line x1="394.5" y1="202" x2="394.5" y2="199" stroke="#999" stroke-width="1"/>
<line x1="400.5" y1="202" x2="400.5" y2="199" stroke="#999" stroke-width="1"/>
<line x1="406.5" y1="202" x2="406.5" y2="197.5" stroke="#333" stroke-width="1"/>
<line x1="412.5" y1="202" x2="412.5" y2="199" stroke="#999" stroke-width="1"/>
<line x1="418.5" y1="202" x2="418.5" y2="199" stroke="#999" stroke-width="1"/>
<line x1="424.5" y1="202" x2="424.5" y2="199" stroke="#999" stroke-width="1"/>
<line x1="430.5" y1="202" x2="430.5" y2="199" stroke="#999" stroke-width="1"/>
<line x1="436.5" y1="202" x2="436.5" y2="199" stroke="#999" stroke-width="1"/>
<line x1="442.5" y1="202" x2="442.5" y2="199" stroke="#999" stroke-width="1"/>
<line x1="448.5" y1="202" x2="448.5" y2="199" stroke="#999" stroke-width="1"/>
<line x1="454.5" y1="202" x2="454.5" y2="199" stroke="#999" stroke-width="1"/>
<line x1="460.5" y1="202" x2="460.5" y2="197.5" stroke="#333" stroke-width="1"/>
<line x1="466.5" y1="202" x2="466.5" y2="199" stroke="#999" stroke-width="1"/>
<line x1="472.5" y1="202" x2="472.5" y2="199" stroke="#999" stroke-width="1"/>
<line x1="478.5" y1="202" x2="478.5" y2="199" stroke="#999" stroke-width="1"/>
<line x1="484.5" y1="202" x2="484.5" y2="199" stroke="#999" stroke-width="1"/>
<line x1="490.5" y1="202" x2="490.5" y2="199" stroke="#999" stroke-width="1"/>
<line x1="496.5" y1="202" x2="496.5" y2="199" stroke="#999" stroke-width="1"/>
<line x1="502.5" y1="202" x2="502.5" y2="199" stroke="#999" stroke-width="1"/>
<line x1="508.5" y1="202" x2="508.5" y2="199" stroke="#999" stroke-width="1"/>
<line x1="514.5" y1="202" x2="514.5" y2="197.5" stroke="#333" stroke-width="1"/>
<line x1="520.5" y1="202" x2="520.5" y2="199" stroke="#999" stroke-width="1"/>
<line x1="526.5" y1="202" x2="526.5" y2="199" stroke="#999" stroke-width="1"/>
<line x1="532.5" y1="202" x2="532.5" y2="199" stroke="#999" stroke-width="1"/>
<line x1="538.5" y1="202" x2="538.5" y2="199" stroke="#999" stroke-width="1"/>
<line x1="544.5" y1="202" x2="544.5" y2="199" stroke="#999" stroke-width="1"/>
<line x1="550.5" y1="202" x2="550.5" y2="199" stroke="#999" stroke-width="1"/>
<line x1="556.5" y1="202" x2="556.5" y2="199" stroke="#999" stroke-width="1"/>
<line x1="562.5" y1="202" x2="562.5" y2="199" stroke="#999" stroke-width="1"/>
<line x1="568.5" y1="202" x2="568.5" y2="197.5" stroke="#333" stroke-width="1"/>
<path d="M352.5 63 V201.5 H569" fill="none" stroke="#000" stroke-width="1.2"/>
<text x="350" y="65.8" text-anchor="end" font-size="9" stroke="#000" stroke-width="0.25">40</text>
<text x="350" y="94.3" text-anchor="end" font-size="9" stroke="#000" stroke-width="0.25">30</text>
<text x="350" y="121.9" text-anchor="end" font-size="9" stroke="#000" stroke-width="0.25">20</text>
<text x="350" y="149.5" text-anchor="end" font-size="9" stroke="#000" stroke-width="0.25">10</text>
<text x="350" y="177.1" text-anchor="end" font-size="9" stroke="#000" stroke-width="0.25">0</text>
<text x="350" y="204.7" text-anchor="end" font-size="9" stroke="#000" stroke-width="0.25">-10</text>
<text x="352.5" y="210" text-anchor="middle" font-size="9" stroke="#000" stroke-width="0.25">0</text>
<text x="406.5" y="210" text-anchor="middle" font-size="9" stroke="#000" stroke-width="0.25">90</text>
<text x="460.5" y="210" text-anchor="middle" font-size="9" stroke="#000" stroke-width="0.25">180</text>
<text x="514.5" y="210" text-anchor="middle" font-size="9" stroke="#000" stroke-width="0.25">270</text>
<text x="568.5" y="210" text-anchor="middle" font-size="9" stroke="#000" stroke-width="0.25">360</text>
<text x="429.90" y="218.60" font-size="11.5" font-weight="bold" textLength="62.0" lengthAdjust="spacingAndGlyphs">phase, deg</text>
<text x="0.00" y="0.00" font-size="11.5" font-weight="bold" textLength="33.0" lengthAdjust="spacingAndGlyphs" transform="translate(335.3,148.7) rotate(-90)">v, m/s</text>
<text x="443.70" y="58.70" font-size="12" font-weight="bold" textLength="48.7" lengthAdjust="spacingAndGlyphs">y=4mm</text>
<path d="M353.3 146.8 L358.6 143.5 L363.2 141.7 L368.5 140.3 L373.8 139.1 L378.5 138.0 L383.2 135.9 L386.7 133.3 L390.7 127.9 L394.8 114.4 L397.0 107.8 L398.9 98.7 L401.2 93.8 L403.1 93.6 L405.7 98.0 L408.0 103.9 L409.7 107.8 L413.0 117.9 L416.0 131.5 L418.4 141.0 L420.4 147.9 L422.8 153.7 L425.8 159.1 L428.7 163.6 L432.6 166.0 L437.5 168.0 L443.4 169.2 L450.2 170.1 L457.0 170.6 L463.9 171.1 L470.7 171.4 L481.7 171.5 L487.6 171.1 L492.5 169.8 L498.3 169.1 L504.2 168.3 L510.1 167.2 L515.9 165.6 L521.8 164.2 L528.1 162.6 L533.8 161.0 L539.5 159.7 L545.2 158.3 L550.9 156.3 L556.6 153.8 L561.5 151.0 L566.4 148.1" fill="none" stroke="#111" stroke-width="1.0" stroke-dasharray="4 3" stroke-linejoin="round"/>
<path d="M353.3 165.2 L358.6 164.9 L363.2 164.2 L367.3 163.4 L370.9 163.8 L375.0 163.1 L379.1 161.9 L382.6 158.4 L385.5 159.0 L388.5 157.9 L392.0 154.6 L394.9 150.5 L396.7 144.1 L398.4 137.0 L399.8 128.0 L401.5 110.0 L402.8 99.3 L404.1 90.8 L405.4 85.0 L406.6 79.4 L409.3 79.4 L411.0 88.9 L412.5 98.7 L414.2 97.7 L415.5 97.4 L417.5 103.2 L419.8 110.0 L421.4 113.7 L424.8 119.5 L428.7 125.4 L433.1 131.3 L436.5 137.1 L439.5 139.3 L444.3 139.9 L447.3 141.0 L451.2 144.5 L454.1 143.0 L458.0 145.1 L460.5 146.1 L461.9 151.8 L463.9 159.1 L466.8 154.2 L470.7 155.7 L473.9 157.6 L477.8 160.0 L481.7 162.3 L485.6 163.3 L490.0 164.9 L491.5 166.9 L493.9 169.3 L496.9 169.8 L499.3 172.7 L502.2 173.7 L506.2 173.2 L510.1 172.2 L514.0 170.5 L518.9 170.3 L523.3 170.8 L526.5 170.3 L529.8 168.9 L533.0 169.5 L535.1 170.5 L537.9 169.7 L541.6 171.2 L544.4 170.0 L548.5 169.3 L552.6 168.3 L557.5 168.7 L562.3 168.3 L565.6 167.7" fill="none" stroke="#e4121e" stroke-width="1.2" stroke-linejoin="round"/>
<line x1="406.5" y1="250" x2="406.5" y2="389" stroke="#b4b4b4" stroke-width="1"/>
<line x1="460.5" y1="250" x2="460.5" y2="389" stroke="#b4b4b4" stroke-width="1"/>
<line x1="514.5" y1="250" x2="514.5" y2="389" stroke="#b4b4b4" stroke-width="1"/>
<line x1="352" y1="278.5" x2="568" y2="278.5" stroke="#b4b4b4" stroke-width="1"/>
<line x1="352" y1="306.5" x2="568" y2="306.5" stroke="#b4b4b4" stroke-width="1"/>
<line x1="352" y1="334.5" x2="568" y2="334.5" stroke="#b4b4b4" stroke-width="1"/>
<line x1="352" y1="361.5" x2="568" y2="361.5" stroke="#b4b4b4" stroke-width="1"/>
<path d="M352.5 250.5 H568.5 V389.5" fill="none" stroke="#b0b0b0" stroke-width="1"/>
<line x1="352" y1="390.5" x2="356.5" y2="390.5" stroke="#333" stroke-width="1"/>
<line x1="352" y1="384.5" x2="354.6" y2="384.5" stroke="#666" stroke-width="1"/>
<line x1="352" y1="378.5" x2="354.6" y2="378.5" stroke="#666" stroke-width="1"/>
<line x1="352" y1="373.5" x2="354.6" y2="373.5" stroke="#666" stroke-width="1"/>
<line x1="352" y1="367.5" x2="354.6" y2="367.5" stroke="#666" stroke-width="1"/>
<line x1="352" y1="361.5" x2="356.5" y2="361.5" stroke="#333" stroke-width="1"/>
<line x1="352" y1="356.5" x2="354.6" y2="356.5" stroke="#666" stroke-width="1"/>
<line x1="352" y1="351.5" x2="354.6" y2="351.5" stroke="#666" stroke-width="1"/>
<line x1="352" y1="345.5" x2="354.6" y2="345.5" stroke="#666" stroke-width="1"/>
<line x1="352" y1="339.5" x2="354.6" y2="339.5" stroke="#666" stroke-width="1"/>
<line x1="352" y1="334.5" x2="356.5" y2="334.5" stroke="#333" stroke-width="1"/>
<line x1="352" y1="328.5" x2="354.6" y2="328.5" stroke="#666" stroke-width="1"/>
<line x1="352" y1="323.5" x2="354.6" y2="323.5" stroke="#666" stroke-width="1"/>
<line x1="352" y1="317.5" x2="354.6" y2="317.5" stroke="#666" stroke-width="1"/>
<line x1="352" y1="312.5" x2="354.6" y2="312.5" stroke="#666" stroke-width="1"/>
<line x1="352" y1="306.5" x2="356.5" y2="306.5" stroke="#333" stroke-width="1"/>
<line x1="352" y1="301.5" x2="354.6" y2="301.5" stroke="#666" stroke-width="1"/>
<line x1="352" y1="295.5" x2="354.6" y2="295.5" stroke="#666" stroke-width="1"/>
<line x1="352" y1="289.5" x2="354.6" y2="289.5" stroke="#666" stroke-width="1"/>
<line x1="352" y1="284.5" x2="354.6" y2="284.5" stroke="#666" stroke-width="1"/>
<line x1="352" y1="278.5" x2="356.5" y2="278.5" stroke="#333" stroke-width="1"/>
<line x1="352" y1="273.5" x2="354.6" y2="273.5" stroke="#666" stroke-width="1"/>
<line x1="352" y1="267.5" x2="354.6" y2="267.5" stroke="#666" stroke-width="1"/>
<line x1="352" y1="262.5" x2="354.6" y2="262.5" stroke="#666" stroke-width="1"/>
<line x1="352" y1="256.5" x2="354.6" y2="256.5" stroke="#666" stroke-width="1"/>
<line x1="352" y1="250.5" x2="356.5" y2="250.5" stroke="#333" stroke-width="1"/>
<line x1="352.5" y1="390" x2="352.5" y2="385.5" stroke="#333" stroke-width="1"/>
<line x1="358.5" y1="390" x2="358.5" y2="387" stroke="#999" stroke-width="1"/>
<line x1="364.5" y1="390" x2="364.5" y2="387" stroke="#999" stroke-width="1"/>
<line x1="370.5" y1="390" x2="370.5" y2="387" stroke="#999" stroke-width="1"/>
<line x1="376.5" y1="390" x2="376.5" y2="387" stroke="#999" stroke-width="1"/>
<line x1="382.5" y1="390" x2="382.5" y2="387" stroke="#999" stroke-width="1"/>
<line x1="388.5" y1="390" x2="388.5" y2="387" stroke="#999" stroke-width="1"/>
<line x1="394.5" y1="390" x2="394.5" y2="387" stroke="#999" stroke-width="1"/>
<line x1="400.5" y1="390" x2="400.5" y2="387" stroke="#999" stroke-width="1"/>
<line x1="406.5" y1="390" x2="406.5" y2="385.5" stroke="#333" stroke-width="1"/>
<line x1="412.5" y1="390" x2="412.5" y2="387" stroke="#999" stroke-width="1"/>
<line x1="418.5" y1="390" x2="418.5" y2="387" stroke="#999" stroke-width="1"/>
<line x1="424.5" y1="390" x2="424.5" y2="387" stroke="#999" stroke-width="1"/>
<line x1="430.5" y1="390" x2="430.5" y2="387" stroke="#999" stroke-width="1"/>
<line x1="436.5" y1="390" x2="436.5" y2="387" stroke="#999" stroke-width="1"/>
<line x1="442.5" y1="390" x2="442.5" y2="387" stroke="#999" stroke-width="1"/>
<line x1="448.5" y1="390" x2="448.5" y2="387" stroke="#999" stroke-width="1"/>
<line x1="454.5" y1="390" x2="454.5" y2="387" stroke="#999" stroke-width="1"/>
<line x1="460.5" y1="390" x2="460.5" y2="385.5" stroke="#333" stroke-width="1"/>
<line x1="466.5" y1="390" x2="466.5" y2="387" stroke="#999" stroke-width="1"/>
<line x1="472.5" y1="390" x2="472.5" y2="387" stroke="#999" stroke-width="1"/>
<line x1="478.5" y1="390" x2="478.5" y2="387" stroke="#999" stroke-width="1"/>
<line x1="484.5" y1="390" x2="484.5" y2="387" stroke="#999" stroke-width="1"/>
<line x1="490.5" y1="390" x2="490.5" y2="387" stroke="#999" stroke-width="1"/>
<line x1="496.5" y1="390" x2="496.5" y2="387" stroke="#999" stroke-width="1"/>
<line x1="502.5" y1="390" x2="502.5" y2="387" stroke="#999" stroke-width="1"/>
<line x1="508.5" y1="390" x2="508.5" y2="387" stroke="#999" stroke-width="1"/>
<line x1="514.5" y1="390" x2="514.5" y2="385.5" stroke="#333" stroke-width="1"/>
<line x1="520.5" y1="390" x2="520.5" y2="387" stroke="#999" stroke-width="1"/>
<line x1="526.5" y1="390" x2="526.5" y2="387" stroke="#999" stroke-width="1"/>
<line x1="532.5" y1="390" x2="532.5" y2="387" stroke="#999" stroke-width="1"/>
<line x1="538.5" y1="390" x2="538.5" y2="387" stroke="#999" stroke-width="1"/>
<line x1="544.5" y1="390" x2="544.5" y2="387" stroke="#999" stroke-width="1"/>
<line x1="550.5" y1="390" x2="550.5" y2="387" stroke="#999" stroke-width="1"/>
<line x1="556.5" y1="390" x2="556.5" y2="387" stroke="#999" stroke-width="1"/>
<line x1="562.5" y1="390" x2="562.5" y2="387" stroke="#999" stroke-width="1"/>
<line x1="568.5" y1="390" x2="568.5" y2="385.5" stroke="#333" stroke-width="1"/>
<path d="M352.5 250 V389.5 H569" fill="none" stroke="#000" stroke-width="1.2"/>
<text x="350" y="253.7" text-anchor="end" font-size="9" stroke="#000" stroke-width="0.25">40</text>
<text x="350" y="281.5" text-anchor="end" font-size="9" stroke="#000" stroke-width="0.25">30</text>
<text x="350" y="309.3" text-anchor="end" font-size="9" stroke="#000" stroke-width="0.25">20</text>
<text x="350" y="337.1" text-anchor="end" font-size="9" stroke="#000" stroke-width="0.25">10</text>
<text x="350" y="364.9" text-anchor="end" font-size="9" stroke="#000" stroke-width="0.25">0</text>
<text x="350" y="392.7" text-anchor="end" font-size="9" stroke="#000" stroke-width="0.25">-10</text>
<text x="352.5" y="397.2" text-anchor="middle" font-size="9" stroke="#000" stroke-width="0.25">0</text>
<text x="406.5" y="397.2" text-anchor="middle" font-size="9" stroke="#000" stroke-width="0.25">90</text>
<text x="460.5" y="397.2" text-anchor="middle" font-size="9" stroke="#000" stroke-width="0.25">180</text>
<text x="514.5" y="397.2" text-anchor="middle" font-size="9" stroke="#000" stroke-width="0.25">270</text>
<text x="568.5" y="397.2" text-anchor="middle" font-size="9" stroke="#000" stroke-width="0.25">360</text>
<text x="429.90" y="406.60" font-size="11.5" font-weight="bold" textLength="62.0" lengthAdjust="spacingAndGlyphs">phase, deg</text>
<text x="0.00" y="0.00" font-size="11.5" font-weight="bold" textLength="33.0" lengthAdjust="spacingAndGlyphs" transform="translate(335.3,336.2) rotate(-90)">v, m/s</text>
<text x="445.30" y="245.60" font-size="12" font-weight="bold" textLength="48.3" lengthAdjust="spacingAndGlyphs">y=5mm</text>
<path d="M352.9 337.6 L355.9 336.2 L359.8 334.7 L364.7 333.7 L369.5 333.2 L375.4 332.5 L382.2 331.5 L388.1 329.8 L393.0 326.9 L396.9 323.0 L399.6 318.8 L402.0 312.8 L403.9 305.0 L405.9 296.6 L408.3 291.8 L411.8 291.1 L414.7 294.2 L417.1 298.1 L419.6 305.0 L422.0 311.9 L423.9 318.1 L425.9 324.4 L428.3 332.2 L430.3 339.1 L433.2 345.0 L437.6 350.3 L442.5 353.7 L448.3 356.2 L455.2 357.7 L461.0 358.1 L466.9 358.4 L473.7 358.6 L481.7 358.6 L487.6 358.3 L493.5 357.3 L499.3 356.4 L506.2 355.4 L513.0 354.4 L518.9 353.2 L524.9 351.4 L529.8 350.1 L535.5 348.7 L542.8 346.9 L549.3 345.2 L555.8 343.2 L560.7 341.2 L564.8 339.5" fill="none" stroke="#111" stroke-width="1.0" stroke-dasharray="4 3" stroke-linejoin="round"/>
<path d="M352.9 353.3 L357.8 353.3 L362.7 352.6 L367.6 352.0 L372.5 352.3 L376.4 351.6 L379.8 350.8 L382.2 349.3 L386.2 349.3 L390.1 348.7 L394.0 346.9 L397.9 344.0 L400.8 339.6 L402.8 334.2 L404.2 325.4 L405.5 316.0 L406.9 306.9 L408.8 298.1 L411.3 290.3 L413.7 281.5 L415.2 272.7 L418.1 269.8 L421.5 275.6 L424.0 284.4 L426.9 293.7 L429.8 304.5 L432.9 314.7 L436.6 325.9 L440.5 327.9 L445.4 328.8 L449.3 330.8 L451.8 332.2 L454.2 331.1 L457.6 332.1 L460.3 332.4 L462.0 339.1 L463.5 347.4 L466.4 341.5 L470.8 341.5 L473.9 342.3 L477.8 344.4 L481.7 346.6 L484.7 346.9 L487.6 348.3 L490.0 348.5 L491.5 351.3 L493.5 354.2 L496.4 354.7 L499.8 358.6 L503.2 358.9 L508.1 358.1 L513.0 355.7 L517.9 355.2 L524.1 355.7 L528.1 355.2 L532.2 355.4 L535.5 356.5 L538.7 355.8 L541.6 357.6 L544.4 356.5 L548.5 356.2 L552.6 355.4 L556.6 355.7 L561.5 355.4 L565.6 355.2" fill="none" stroke="#e4121e" stroke-width="1.2" stroke-linejoin="round"/>
<line x1="406.5" y1="440" x2="406.5" y2="579" stroke="#b4b4b4" stroke-width="1"/>
<line x1="460.5" y1="440" x2="460.5" y2="579" stroke="#b4b4b4" stroke-width="1"/>
<line x1="514.5" y1="440" x2="514.5" y2="579" stroke="#b4b4b4" stroke-width="1"/>
<line x1="352" y1="468.5" x2="568" y2="468.5" stroke="#b4b4b4" stroke-width="1"/>
<line x1="352" y1="495.5" x2="568" y2="495.5" stroke="#b4b4b4" stroke-width="1"/>
<line x1="352" y1="523.5" x2="568" y2="523.5" stroke="#b4b4b4" stroke-width="1"/>
<line x1="352" y1="551.5" x2="568" y2="551.5" stroke="#b4b4b4" stroke-width="1"/>
<path d="M352.5 440.5 H568.5 V579.5" fill="none" stroke="#b0b0b0" stroke-width="1"/>
<line x1="352" y1="579.5" x2="356.5" y2="579.5" stroke="#333" stroke-width="1"/>
<line x1="352" y1="573.5" x2="354.6" y2="573.5" stroke="#666" stroke-width="1"/>
<line x1="352" y1="567.5" x2="354.6" y2="567.5" stroke="#666" stroke-width="1"/>
<line x1="352" y1="562.5" x2="354.6" y2="562.5" stroke="#666" stroke-width="1"/>
<line x1="352" y1="556.5" x2="354.6" y2="556.5" stroke="#666" stroke-width="1"/>
<line x1="352" y1="551.5" x2="356.5" y2="551.5" stroke="#333" stroke-width="1"/>
<line x1="352" y1="545.5" x2="354.6" y2="545.5" stroke="#666" stroke-width="1"/>
<line x1="352" y1="540.5" x2="354.6" y2="540.5" stroke="#666" stroke-width="1"/>
<line x1="352" y1="534.5" x2="354.6" y2="534.5" stroke="#666" stroke-width="1"/>
<line x1="352" y1="529.5" x2="354.6" y2="529.5" stroke="#666" stroke-width="1"/>
<line x1="352" y1="523.5" x2="356.5" y2="523.5" stroke="#333" stroke-width="1"/>
<line x1="352" y1="517.5" x2="354.6" y2="517.5" stroke="#666" stroke-width="1"/>
<line x1="352" y1="512.5" x2="354.6" y2="512.5" stroke="#666" stroke-width="1"/>
<line x1="352" y1="506.5" x2="354.6" y2="506.5" stroke="#666" stroke-width="1"/>
<line x1="352" y1="501.5" x2="354.6" y2="501.5" stroke="#666" stroke-width="1"/>
<line x1="352" y1="495.5" x2="356.5" y2="495.5" stroke="#333" stroke-width="1"/>
<line x1="352" y1="490.5" x2="354.6" y2="490.5" stroke="#666" stroke-width="1"/>
<line x1="352" y1="484.5" x2="354.6" y2="484.5" stroke="#666" stroke-width="1"/>
<line x1="352" y1="478.5" x2="354.6" y2="478.5" stroke="#666" stroke-width="1"/>
<line x1="352" y1="473.5" x2="354.6" y2="473.5" stroke="#666" stroke-width="1"/>
<line x1="352" y1="468.5" x2="356.5" y2="468.5" stroke="#333" stroke-width="1"/>
<line x1="352" y1="462.5" x2="354.6" y2="462.5" stroke="#666" stroke-width="1"/>
<line x1="352" y1="456.5" x2="354.6" y2="456.5" stroke="#666" stroke-width="1"/>
<line x1="352" y1="451.5" x2="354.6" y2="451.5" stroke="#666" stroke-width="1"/>
<line x1="352" y1="445.5" x2="354.6" y2="445.5" stroke="#666" stroke-width="1"/>
<line x1="352" y1="440.5" x2="356.5" y2="440.5" stroke="#333" stroke-width="1"/>
<line x1="352.5" y1="580" x2="352.5" y2="575.5" stroke="#333" stroke-width="1"/>
<line x1="358.5" y1="580" x2="358.5" y2="577" stroke="#999" stroke-width="1"/>
<line x1="364.5" y1="580" x2="364.5" y2="577" stroke="#999" stroke-width="1"/>
<line x1="370.5" y1="580" x2="370.5" y2="577" stroke="#999" stroke-width="1"/>
<line x1="376.5" y1="580" x2="376.5" y2="577" stroke="#999" stroke-width="1"/>
<line x1="382.5" y1="580" x2="382.5" y2="577" stroke="#999" stroke-width="1"/>
<line x1="388.5" y1="580" x2="388.5" y2="577" stroke="#999" stroke-width="1"/>
<line x1="394.5" y1="580" x2="394.5" y2="577" stroke="#999" stroke-width="1"/>
<line x1="400.5" y1="580" x2="400.5" y2="577" stroke="#999" stroke-width="1"/>
<line x1="406.5" y1="580" x2="406.5" y2="575.5" stroke="#333" stroke-width="1"/>
<line x1="412.5" y1="580" x2="412.5" y2="577" stroke="#999" stroke-width="1"/>
<line x1="418.5" y1="580" x2="418.5" y2="577" stroke="#999" stroke-width="1"/>
<line x1="424.5" y1="580" x2="424.5" y2="577" stroke="#999" stroke-width="1"/>
<line x1="430.5" y1="580" x2="430.5" y2="577" stroke="#999" stroke-width="1"/>
<line x1="436.5" y1="580" x2="436.5" y2="577" stroke="#999" stroke-width="1"/>
<line x1="442.5" y1="580" x2="442.5" y2="577" stroke="#999" stroke-width="1"/>
<line x1="448.5" y1="580" x2="448.5" y2="577" stroke="#999" stroke-width="1"/>
<line x1="454.5" y1="580" x2="454.5" y2="577" stroke="#999" stroke-width="1"/>
<line x1="460.5" y1="580" x2="460.5" y2="575.5" stroke="#333" stroke-width="1"/>
<line x1="466.5" y1="580" x2="466.5" y2="577" stroke="#999" stroke-width="1"/>
<line x1="472.5" y1="580" x2="472.5" y2="577" stroke="#999" stroke-width="1"/>
<line x1="478.5" y1="580" x2="478.5" y2="577" stroke="#999" stroke-width="1"/>
<line x1="484.5" y1="580" x2="484.5" y2="577" stroke="#999" stroke-width="1"/>
<line x1="490.5" y1="580" x2="490.5" y2="577" stroke="#999" stroke-width="1"/>
<line x1="496.5" y1="580" x2="496.5" y2="577" stroke="#999" stroke-width="1"/>
<line x1="502.5" y1="580" x2="502.5" y2="577" stroke="#999" stroke-width="1"/>
<line x1="508.5" y1="580" x2="508.5" y2="577" stroke="#999" stroke-width="1"/>
<line x1="514.5" y1="580" x2="514.5" y2="575.5" stroke="#333" stroke-width="1"/>
<line x1="520.5" y1="580" x2="520.5" y2="577" stroke="#999" stroke-width="1"/>
<line x1="526.5" y1="580" x2="526.5" y2="577" stroke="#999" stroke-width="1"/>
<line x1="532.5" y1="580" x2="532.5" y2="577" stroke="#999" stroke-width="1"/>
<line x1="538.5" y1="580" x2="538.5" y2="577" stroke="#999" stroke-width="1"/>
<line x1="544.5" y1="580" x2="544.5" y2="577" stroke="#999" stroke-width="1"/>
<line x1="550.5" y1="580" x2="550.5" y2="577" stroke="#999" stroke-width="1"/>
<line x1="556.5" y1="580" x2="556.5" y2="577" stroke="#999" stroke-width="1"/>
<line x1="562.5" y1="580" x2="562.5" y2="577" stroke="#999" stroke-width="1"/>
<line x1="568.5" y1="580" x2="568.5" y2="575.5" stroke="#333" stroke-width="1"/>
<path d="M352.5 440 V579.5 H569" fill="none" stroke="#000" stroke-width="1.2"/>
<text x="350" y="442.8" text-anchor="end" font-size="9" stroke="#000" stroke-width="0.25">40</text>
<text x="350" y="471.3" text-anchor="end" font-size="9" stroke="#000" stroke-width="0.25">30</text>
<text x="350" y="498.9" text-anchor="end" font-size="9" stroke="#000" stroke-width="0.25">20</text>
<text x="350" y="526.5" text-anchor="end" font-size="9" stroke="#000" stroke-width="0.25">10</text>
<text x="350" y="554.1" text-anchor="end" font-size="9" stroke="#000" stroke-width="0.25">0</text>
<text x="350" y="581.7" text-anchor="end" font-size="9" stroke="#000" stroke-width="0.25">-10</text>
<text x="352.5" y="587" text-anchor="middle" font-size="9" stroke="#000" stroke-width="0.25">0</text>
<text x="406.5" y="587" text-anchor="middle" font-size="9" stroke="#000" stroke-width="0.25">90</text>
<text x="460.5" y="587" text-anchor="middle" font-size="9" stroke="#000" stroke-width="0.25">180</text>
<text x="514.5" y="587" text-anchor="middle" font-size="9" stroke="#000" stroke-width="0.25">270</text>
<text x="568.5" y="587" text-anchor="middle" font-size="9" stroke="#000" stroke-width="0.25">360</text>
<text x="429.90" y="595.60" font-size="11.5" font-weight="bold" textLength="62.0" lengthAdjust="spacingAndGlyphs">phase, deg</text>
<text x="0.00" y="0.00" font-size="11.5" font-weight="bold" textLength="33.0" lengthAdjust="spacingAndGlyphs" transform="translate(335.3,526.2) rotate(-90)">v, m/s</text>
<text x="441.40" y="437.80" font-size="12" font-weight="bold" textLength="49.6" lengthAdjust="spacingAndGlyphs">y=6mm</text>
<path d="M352.9 529.6 L356.8 527.6 L360.7 526.9 L365.6 526.0 L370.5 525.2 L375.4 524.4 L381.3 524.0 L387.1 523.2 L392.0 522.2 L395.9 520.5 L399.8 517.9 L403.3 514.9 L406.2 512.0 L408.6 507.6 L410.0 502.8 L412.5 495.9 L414.9 491.0 L417.9 486.6 L420.3 484.0 L423.2 484.4 L425.2 488.1 L427.6 493.0 L430.1 499.8 L432.4 505.9 L434.9 513.7 L437.3 521.0 L440.7 528.9 L444.8 536.3 L448.8 541.3 L453.7 543.7 L459.5 545.4 L465.4 546.4 L472.2 547.1 L479.1 547.4 L485.9 547.3 L492.8 546.9 L499.8 546.6 L505.6 545.7 L511.5 544.2 L517.4 543.0 L523.2 542.4 L529.8 540.9 L537.1 538.9 L544.4 537.7 L550.9 535.9 L558.3 533.6 L565.6 530.8" fill="none" stroke="#111" stroke-width="1.0" stroke-dasharray="4 3" stroke-linejoin="round"/>
<path d="M352.9 542.3 L357.8 542.3 L362.7 541.8 L367.6 541.3 L372.5 541.6 L378.3 541.0 L381.3 540.0 L383.7 539.3 L387.1 540.3 L391.0 539.3 L395.0 538.4 L398.9 537.1 L401.8 535.0 L404.7 531.5 L407.7 526.2 L410.0 521.3 L412.3 510.0 L413.9 500.8 L415.9 491.0 L417.9 482.2 L419.8 474.4 L421.3 466.6 L423.2 461.7 L424.7 459.3 L427.6 460.7 L429.6 466.6 L431.5 473.5 L433.5 482.2 L435.0 491.0 L436.5 500.5 L438.9 504.7 L440.8 508.6 L443.9 515.9 L447.8 519.8 L451.7 522.2 L454.6 519.7 L457.5 521.3 L460.4 521.5 L462.0 528.4 L463.5 535.6 L466.5 530.5 L471.5 530.0 L474.2 530.7 L477.1 532.3 L481.0 534.2 L485.8 534.5 L489.8 536.0 L492.0 538.3 L493.9 541.5 L496.8 542.7 L499.8 546.4 L503.7 546.6 L507.6 546.4 L510.5 545.0 L513.5 543.0 L517.4 542.4 L522.2 542.7 L527.1 543.0 L531.0 542.4 L535.0 542.8 L538.7 542.8 L541.6 545.2 L544.4 544.9 L549.3 544.6 L554.2 544.0 L559.1 544.4 L565.6 544.2" fill="none" stroke="#e4121e" stroke-width="1.2" stroke-linejoin="round"/>
<rect x="121.5" y="76.5" width="112" height="46" fill="#fff" stroke="#b4b4b4" stroke-width="1"/>
<line x1="130" y1="95.5" x2="179" y2="95.5" stroke="#e4121e" stroke-width="1.1"/>
<line x1="130" y1="108.5" x2="179" y2="108.5" stroke="#111" stroke-width="1.0" stroke-dasharray="4 3"/>
<text x="186.70" y="98.50" font-size="10.5" font-weight="bold" textLength="17.9" lengthAdjust="spacingAndGlyphs">PIV</text>
<text x="186.20" y="111.70" font-size="10.5" font-weight="bold" textLength="37.8" lengthAdjust="spacingAndGlyphs">hotwire</text>
<text x="139.00" y="34.30" font-size="13" font-weight="bold" textLength="330.0" lengthAdjust="spacingAndGlyphs">V-velocities along centerline as a function of phase</text>
</svg>
</body></html>
